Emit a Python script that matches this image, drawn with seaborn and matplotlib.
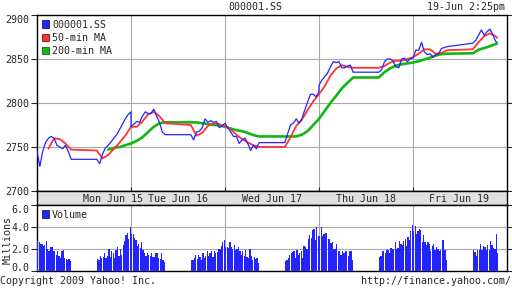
import numpy as np
import pandas as pd
import matplotlib
matplotlib.use("Agg")
import matplotlib.pyplot as plt
import seaborn as sns
from matplotlib.patches import Patch

# ---------------- data ----------------
day_labels = ["Mon Jun 15", "Tue Jun 16", "Wed Jun 17", "Thu Jun 18", "Fri Jun 19"]
label_pos_px = [113, 178, 272, 366, 459]

# price every 10 trading minutes (9:30..11:30, 13:00..15:00)
price_mon = [2745, 2728, 2745, 2755, 2760, 2762, 2760, 2752, 2750, 2748, 2752, 2745, 2736,
             2736, 2731, 2742, 2749, 2752, 2756, 2760, 2764, 2770, 2776, 2782, 2787, 2790]
price_tue = [2773, 2776, 2779, 2778, 2785, 2790, 2788, 2788, 2793, 2785, 2778, 2767, 2764,
             2764, 2758, 2767, 2768, 2772, 2782, 2778, 2780, 2778, 2779, 2772, 2774, 2777]
price_wed = [2777, 2772, 2767, 2762, 2762, 2754, 2758, 2760, 2754, 2746, 2752, 2748, 2755,
             2755, 2765, 2775, 2777, 2782, 2777, 2782, 2792, 2801, 2810, 2810, 2807, 2813]
price_thu = [2820, 2826, 2830, 2834, 2841, 2847, 2846, 2847, 2840, 2840, 2842, 2843, 2835,
             2835, 2838, 2847, 2850, 2850, 2848, 2841, 2840, 2850, 2851, 2847, 2850, 2851]
price_fri = [2851, 2860, 2860, 2869, 2858, 2855, 2856, 2852, 2855, 2856, 2862, 2863, 2864,
             2868, 2871, 2877, 2883, 2877, 2881, 2884, 2878, 2870, 2869]

# moving averages every 20 trading minutes
ma50_mon = [np.nan, np.nan, 2748, 2760, 2759, 2754, 2747, 2746, 2737, 2741, 2748, 2755, 2763, 2773]
ma50_tue = [2773, 2773, 2779, 2787, 2790, 2785, 2777, 2775, 2763, 2766, 2774, 2777, 2776, 2773]
ma50_wed = [2774, 2770, 2764, 2759, 2755, 2752, 2750, 2750, 2761, 2774, 2781, 2792, 2802, 2810]
ma50_thu = [2810, 2819, 2831, 2839, 2843, 2841, 2840, 2840, 2842, 2846, 2848, 2848, 2850, 2852]
ma50_fri = [2852, 2856, 2861, 2861, 2856, 2857, 2860, 2861, 2869, 2876, 2879, 2876, 2874]

ma200_mon = [np.nan] * 9 + [2747, 2749, 2750, 2752, 2754]
ma200_tue = [2754, 2757, 2761, 2767, 2773, 2777, 2778, 2778, 2778, 2777, 2776, 2775, 2774.5, 2773]
ma200_wed = [2773, 2771, 2769, 2768, 2766, 2763.5, 2762, 2762, 2762, 2762, 2764, 2768, 2775, 2782]
ma200_thu = [2782, 2791, 2800, 2808, 2816.5, 2823, 2829, 2829, 2835, 2839.5, 2842.5, 2844, 2845, 2846]
ma200_fri = [2846, 2847.5, 2849.5, 2851.5, 2854, 2855.5, 2856, 2856.5, 2860.5, 2862.5, 2864.5, 2867, 2867.5]

# volume (millions), 5-minute bars
vol_mon_am = [2.7, 2.6, 2.5, 2.5, 2.3, 2.4, 2.7, 2.0, 1.8, 2.2, 2.2, 1.8, 1.8, 1.5, 1.8, 1.4, 1.2, 1.8, 1.9, 1.2, 1.1, 1.0, 1.1, 0.9]
vol_mon_pm = [1.1, 1.0, 1.4, 1.2, 1.3, 1.6, 1.2, 1.4, 2.0, 1.3, 1.8, 1.6, 1.2, 1.9, 2.2, 1.4, 2.0, 1.5, 2.4, 2.7, 3.3, 3.5, 2.9, 4.0]
vol_tue_am = [3.4, 3.4, 3.0, 2.8, 2.3, 2.5, 2.1, 2.6, 1.9, 1.6, 1.4, 1.6, 1.5, 1.4, 1.6, 1.3, 1.3, 1.6, 1.6, 1.2, 1.1, 1.6, 1.0, 0.8]
vol_tue_pm = [1.0, 1.0, 1.2, 1.5, 1.1, 1.5, 1.3, 1.0, 1.6, 1.2, 1.4, 1.8, 1.4, 1.6, 1.8, 1.3, 1.8, 1.6, 1.7, 2.0, 2.0, 2.3, 2.6, 2.8]
vol_wed_am = [2.2, 2.2, 2.1, 2.6, 2.2, 2.0, 2.4, 1.9, 2.0, 2.2, 1.8, 1.5, 1.8, 1.4, 1.9, 1.3, 1.2, 2.0, 1.4, 1.0, 1.3, 1.1, 1.2, 0.7]
vol_wed_pm = [0.9, 1.0, 1.2, 1.45, 1.6, 1.7, 1.8, 1.2, 1.9, 1.5, 1.6, 1.8, 1.2, 2.3, 2.2, 2.0, 2.9, 3.3, 3.0, 3.7, 3.8, 2.8, 4.0, 3.2]
vol_thu_am = [3.2, 4.0, 3.2, 3.35, 3.5, 3.5, 2.9, 2.9, 2.55, 2.6, 2.0, 2.0, 2.45, 1.85, 1.8, 1.5, 1.8, 1.6, 1.8, 1.8, 1.4, 1.8, 1.8, 1.0]
vol_thu_pm = [1.3, 1.4, 1.8, 1.8, 1.6, 1.9, 1.9, 1.6, 2.1, 2.0, 2.0, 2.6, 2.0, 2.1, 2.7, 2.5, 2.4, 2.7, 2.9, 2.3, 3.1, 2.8, 3.6, 4.2]
vol_fri_am = [3.6, 4.1, 3.4, 3.6, 3.8, 3.7, 2.6, 3.3, 2.6, 2.4, 2.6, 2.5, 1.8, 2.3, 2.5, 1.9, 2.2, 2.0, 1.8, 1.9, 2.8, 2.8, 1.9, 1.0]
vol_fri_pm = [1.9, 1.75, 1.4, 1.9, 1.9, 2.5, 1.9, 2.3, 2.2, 1.9, 2.4, 1.9, 2.7, 2.4, 2.1, 2.0, 3.4, 1.6]

price_yticks = [2700, 2750, 2800, 2850, 2900]
vol_yticks = [0, 2, 4, 6]

# ---------------- time layout (trading minutes, lunch kept as gap) ----------------
DAY = 330  # 9:30 -> 15:00
t_price = list(range(0, 121, 10)) + list(range(210, 331, 10))
t_price_fri = list(range(0, 121, 10)) + list(range(210, 291, 10)) + [295]
t_ma = list(range(0, 121, 20)) + list(range(210, 331, 20))
t_ma_fri = list(range(0, 121, 20)) + [210, 230, 250, 270, 290, 295]


def build(series_list, times_list):
    xs, ys = [], []
    for d, (vals, ts) in enumerate(zip(series_list, times_list)):
        for t, v in zip(ts, vals):
            xs.append(d * DAY + t)
            ys.append(v)
    df = pd.DataFrame({"x": xs, "v": ys}).dropna()
    return df


df_price = build([price_mon, price_tue, price_wed, price_thu, price_fri],
                 [t_price] * 4 + [t_price_fri])
df_ma50 = build([ma50_mon, ma50_tue, ma50_wed, ma50_thu, ma50_fri], [t_ma] * 4 + [t_ma_fri])
df_ma200 = build([ma200_mon, ma200_tue, ma200_wed, ma200_thu, ma200_fri], [t_ma] * 4 + [t_ma_fri])

vx, vy = [], []
for d, (am, pm) in enumerate([(vol_mon_am, vol_mon_pm), (vol_tue_am, vol_tue_pm),
                              (vol_wed_am, vol_wed_pm), (vol_thu_am, vol_thu_pm),
                              (vol_fri_am, vol_fri_pm)]):
    for k, v in enumerate(am):
        vx.append(d * DAY + 2.5 + 5 * k)
        vy.append(v)
    for k, v in enumerate(pm):
        vx.append(d * DAY + 212.5 + 5 * k)
        vy.append(v)
df_vol = pd.DataFrame({"x": vx, "vol": vy})

# ---------------- style ----------------
sns.set_style("white")
plt.rcParams["font.family"] = ["DejaVu Sans Mono"]
plt.rcParams["font.size"] = 7.2

BLUE = "#2424ff"
RED = "#ff3333"
GREEN = "#10b810"
GRID = "#a9a9a9"
FS = 7.2

W, H = 512, 288
fig = plt.figure(figsize=(W / 100, H / 100), dpi=100)


def rect(l, t, r, b):
    return [l / W, 1 - b / H, (r - l) / W, (b - t) / H]


ax = fig.add_axes(rect(37, 15, 507, 191))
axs = fig.add_axes(rect(37, 191, 507, 205))
axv = fig.add_axes(rect(37, 205, 507, 271))

XMAX = 5 * DAY
day_bounds = [DAY * i for i in range(1, 5)]

# price panel
sns.lineplot(data=df_ma200, x="x", y="v", color=GREEN, linewidth=1.9, estimator=None,
             sort=False, legend=False, ax=ax, zorder=3)
sns.lineplot(data=df_ma50, x="x", y="v", color=RED, linewidth=1.3, estimator=None,
             sort=False, legend=False, ax=ax, zorder=4)
sns.lineplot(data=df_price, x="x", y="v", color=BLUE, linewidth=0.9, estimator=None,
             sort=False, legend=False, ax=ax, zorder=5)
ax.set_xlim(0, XMAX)
ax.set_ylim(2700, 2900)
ax.set_yticks(price_yticks)
ax.set_yticklabels([str(v) for v in price_yticks])
ax.set_xticks(day_bounds)
ax.set_xticklabels([])
ax.set_xlabel("")
ax.set_ylabel("")
ax.grid(True, color=GRID, linewidth=0.8, zorder=0)
ax.set_axisbelow(True)
ax.tick_params(axis="y", which="both", left=True, right=True, direction="out", length=4,
               width=0.8, pad=1.5, labelsize=FS, labelleft=True, labelright=False)
ax.tick_params(axis="x", bottom=True, direction="in", length=3, width=0.8)
for s in ax.spines.values():
    s.set_color("black")
    s.set_linewidth(1.0)
ax.get_yticklabels()[-1].set_va("top")

handles = [Patch(facecolor=BLUE, edgecolor="#000044", linewidth=0.5, label="000001.SS"),
           Patch(facecolor=RED, edgecolor="#440000", linewidth=0.5, label="50-min MA"),
           Patch(facecolor=GREEN, edgecolor="#004400", linewidth=0.5, label="200-min MA")]
ax.legend(handles=handles, loc="upper left", frameon=False, fontsize=FS,
          handlelength=0.75, handleheight=0.75, handletextpad=0.3, labelspacing=0.32,
          borderaxespad=0.25, borderpad=0.2)

# date strip
axs.set_facecolor("#e0e0e0")
axs.set_xlim(0, XMAX)
axs.set_ylim(0, 1)
axs.set_xticks([])
axs.set_yticks([])
for s in axs.spines.values():
    s.set_color("black")
    s.set_linewidth(1.0)
for lab, px in zip(day_labels, label_pos_px):
    axs.text((px - 37) / 470 * XMAX, 0.45, lab, ha="center", va="center", fontsize=FS)

# volume panel
sns.barplot(data=df_vol, x="x", y="vol", native_scale=True, color=BLUE, saturation=1,
            width=0.88, errorbar=None, linewidth=0, ax=axv, zorder=3)
axv.set_xlim(0, XMAX)
axv.set_ylim(0, 6)
axv.set_yticks(vol_yticks)
axv.set_yticklabels([f"{v:.1f}" for v in vol_yticks])
axv.set_xticks(day_bounds)
axv.set_xticklabels([])
axv.set_xlabel("")
axv.set_ylabel("")
axv.grid(True, color=GRID, linewidth=0.8, zorder=0)
axv.set_axisbelow(True)
axv.tick_params(axis="y", left=True, right=True, direction="out", length=4, width=0.8,
                pad=1.5, labelsize=FS)
axv.tick_params(axis="x", bottom=False, length=0)
for s in axv.spines.values():
    s.set_color("black")
    s.set_linewidth(1.0)
vlabels = axv.get_yticklabels()
vlabels[-1].set_va("top")
vlabels[0].set_va("baseline")
axv.legend(handles=[Patch(facecolor=BLUE, edgecolor="#000044", linewidth=0.5, label="Volume")],
           loc="upper left", frameon=False, fontsize=FS, handlelength=0.75, handleheight=0.75,
           handletextpad=0.3, borderaxespad=0.25, borderpad=0.2)

# figure texts
fig.text(255 / W, 1 - 6.5 / H, "000001.SS", ha="center", va="center", fontsize=FS)
fig.text(505 / W, 1 - 6.5 / H, "19-Jun 2:25pm", ha="right", va="center", fontsize=FS)
fig.text(7.5 / W, 1 - 240 / H, "Millions", rotation=90, ha="center", va="center", fontsize=FS)
fig.text(0 / W, 1 - 281 / H, "Copyright 2009 Yahoo! Inc.", ha="left", va="center", fontsize=FS)
fig.text(511 / W, 1 - 281 / H, "http://finance.yahoo.com/", ha="right", va="center", fontsize=FS)

fig.savefig("out.png", dpi=100)
